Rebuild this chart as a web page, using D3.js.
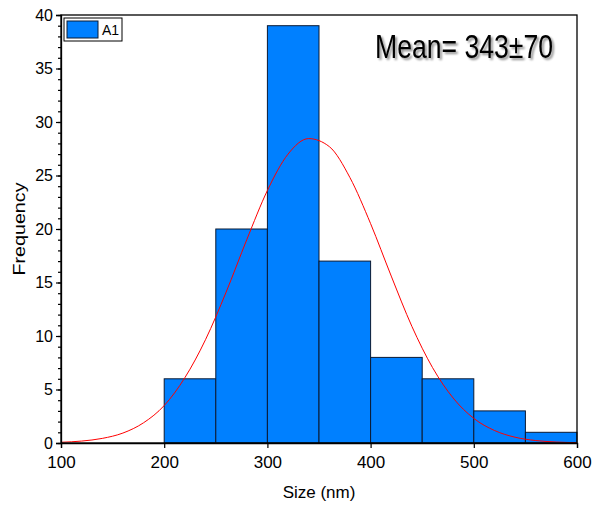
<!DOCTYPE html>
<html>
<head>
<meta charset="utf-8">
<script src="https://cdn.jsdelivr.net/npm/d3@7"></script>
<style>
  html, body { margin: 0; padding: 0; background: #fff; }
  svg { display: block; font-family: "Liberation Sans", Arial, sans-serif; }
</style>
</head>
<body>
<div id="chart"></div>
<script>
// Histogram of particle sizes with fitted normal curve

const binStarts = [200, 250, 300, 350, 400, 450, 500, 550];
const binWidth = 50;
const counts = [6, 20, 39, 17, 8, 6, 3, 1];

// red fit curve, every 20 nm
const curveX = [100, 120, 140, 160, 180, 200, 220, 240, 260, 280, 300, 320, 340,
                360, 380, 400, 420, 440, 460, 480, 500, 520, 540, 560, 580, 600];
const curveY = [0.07, 0.18, 0.43, 0.93, 1.89, 3.5, 6.1, 9.65, 14.1, 19.0, 23.6, 27.0, 28.45,
                27.7, 24.8, 20.5, 15.6, 10.9, 7.05, 4.2, 2.3, 1.17, 0.54, 0.23, 0.09, 0.03];

const xTicks = [100, 200, 300, 400, 500, 600];
const yTicks = [0, 5, 10, 15, 20, 25, 30, 35, 40];
const meanLabel = "Mean= 343±70";
const seriesName = "A1";

const width = 603, height = 508;
const margin = { left: 61, right: 26, top: 15, bottom: 65 };
const plotW = width - margin.left - margin.right;
const plotH = height - margin.top - margin.bottom;

const svg = d3.select("#chart").append("svg")
  .attr("width", width)
  .attr("height", height);

const defs = svg.append("defs");
const shadow = defs.append("filter").attr("id", "shadow")
  .attr("x", "-10%").attr("y", "-20%").attr("width", "130%").attr("height", "150%");
shadow.append("feGaussianBlur").attr("in", "SourceAlpha").attr("stdDeviation", 1.2).attr("result", "b");
shadow.append("feOffset").attr("in", "b").attr("dx", 2).attr("dy", 2).attr("result", "o");
shadow.append("feComponentTransfer").attr("in", "o").attr("result", "s")
  .append("feFuncA").attr("type", "linear").attr("slope", 0.45);
const merge = shadow.append("feMerge");
merge.append("feMergeNode").attr("in", "s");
merge.append("feMergeNode").attr("in", "SourceGraphic");

const x = d3.scaleLinear().domain([100, 600]).range([0, plotW]);
const y = d3.scaleLinear().domain([0, 40]).range([plotH, 0]);

const g = svg.append("g").attr("transform", `translate(${margin.left},${margin.top})`);

// bars
g.append("g")
  .selectAll("rect")
  .data(counts)
  .join("rect")
  .attr("x", (d, i) => x(binStarts[i]))
  .attr("y", d => y(d))
  .attr("width", (d, i) => x(binStarts[i] + binWidth) - x(binStarts[i]))
  .attr("height", d => y(0) - y(d))
  .attr("fill", "#0080ff")
  .attr("stroke", "#0a1a33")
  .attr("stroke-width", 1);

// fit curve
const line = d3.line()
  .x((d, i) => x(curveX[i]))
  .y(d => y(d))
  .curve(d3.curveMonotoneX);

g.append("path")
  .datum(curveY)
  .attr("d", line)
  .attr("fill", "none")
  .attr("stroke", "#ff0000")
  .attr("stroke-width", 1);

// frame
g.append("rect")
  .attr("width", plotW)
  .attr("height", plotH)
  .attr("fill", "none")
  .attr("stroke", "#000")
  .attr("stroke-width", 1.3);

// axes
const xAxis = g.append("g")
  .attr("transform", `translate(0,${plotH})`)
  .call(d3.axisBottom(x).tickValues(xTicks).tickSize(5).tickPadding(8));

const yMinor = g.append("g")
  .call(d3.axisLeft(y).ticks(40).tickSize(3).tickFormat(""));
yMinor.select(".domain").remove();

const yAxis = g.append("g")
  .call(d3.axisLeft(y).tickValues(yTicks).tickSize(5).tickPadding(3));

[xAxis, yAxis, yMinor].forEach(a => {
  a.selectAll(".domain").attr("stroke-width", 1.3);
  a.selectAll(".tick line").attr("stroke-width", 1.2);
  a.selectAll("text")
    .attr("font-size", "16px")
    .attr("font-family", "'Liberation Sans', Arial, sans-serif")
    .attr("fill", "#000");
});
xAxis.selectAll("text").attr("font-size", "17px");

// axis titles
svg.append("text")
  .attr("x", margin.left + plotW / 2)
  .attr("y", 498)
  .attr("text-anchor", "middle")
  .attr("font-size", "17px")
  .text("Size (nm)");

svg.append("text")
  .attr("transform", `translate(25,${margin.top + plotH / 2}) rotate(-90)`)
  .attr("text-anchor", "middle")
  .attr("font-size", "17px")
  .attr("textLength", 93)
  .attr("lengthAdjust", "spacingAndGlyphs")
  .text("Frequency");

// legend
const leg = svg.append("g").attr("transform", "translate(64,18)");
leg.append("rect")
  .attr("width", 58).attr("height", 23)
  .attr("fill", "#fff").attr("stroke", "#000").attr("stroke-width", 1);
leg.append("rect")
  .attr("x", 3).attr("y", 3).attr("width", 31).attr("height", 17)
  .attr("fill", "#0080ff").attr("stroke", "#0a1a33").attr("stroke-width", 1);
leg.append("text")
  .attr("x", 38).attr("y", 17)
  .attr("font-size", "14px")
  .text(seriesName);

// mean annotation
svg.append("text")
  .attr("x", 375)
  .attr("y", 58)
  .attr("font-size", "34px")
  .attr("textLength", 178)
  .attr("lengthAdjust", "spacingAndGlyphs")
  .attr("filter", "url(#shadow)")
  .text(meanLabel);
</script>
</body>
</html>
